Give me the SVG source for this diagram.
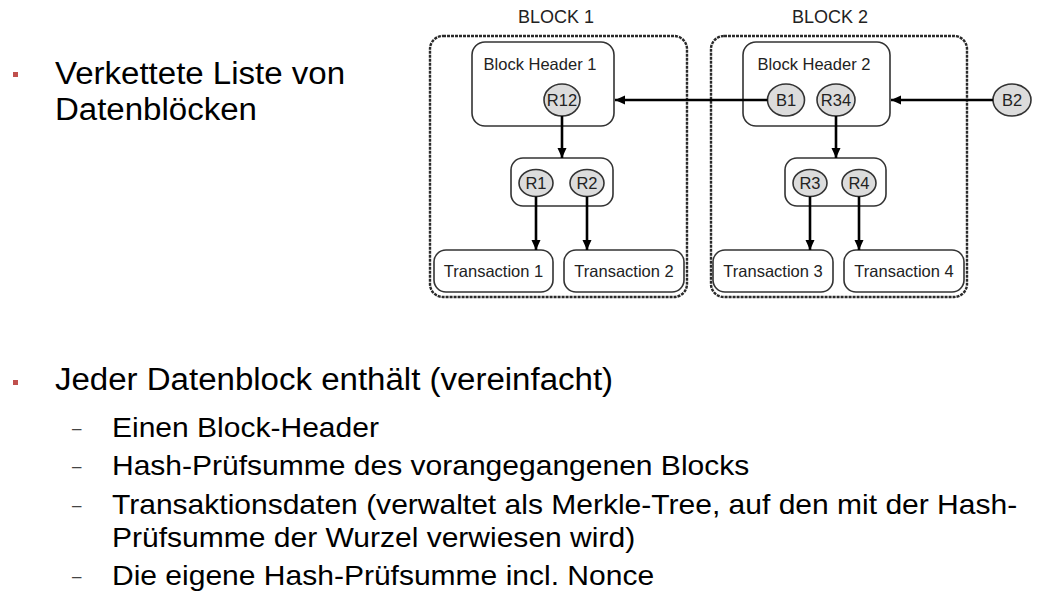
<svg xmlns="http://www.w3.org/2000/svg" width="1039" height="608" viewBox="0 0 1039 608">
  <style>
    .slide { font-family: "Liberation Sans", Arial, sans-serif; fill: #000; }
    .h1 { font-size: 30.6px; }
    .sub { font-size: 27.8px; }
    .dash { font-family: "Liberation Sans", Arial, sans-serif; font-size: 17px; fill: #444; }
    .bullet { fill: #c0504d; }
    .lbl { font-family: "Liberation Sans", Arial, sans-serif; font-size: 16.5px; fill: #222; }
    .title { font-family: "Liberation Sans", Arial, sans-serif; font-size: 18px; fill: #222; }
    .blk { fill: none; stroke: #2a2a2a; stroke-width: 2.4; stroke-dasharray: 3 1; }
    .box { fill: #fff; stroke: #333; stroke-width: 1.6; }
    .hash { fill: #dcdcdc; stroke: #333; stroke-width: 1.6; }
    .link { fill: none; stroke: #000; stroke-width: 2.6; }
  </style>
  <defs>
    <marker id="arrow" viewBox="0 0 10 10" refX="10" refY="5" markerWidth="10" markerHeight="10" markerUnits="userSpaceOnUse" orient="auto">
      <path d="M0,0.5 L10,5 L0,9.5 Z" fill="#000"/>
    </marker>
  </defs>

  <rect width="1039" height="608" fill="#fff"/>

  <!-- slide bullets -->
  <rect class="bullet" x="13" y="72" width="5" height="5"/>
  <rect class="bullet" x="13" y="380" width="5" height="5"/>
  <text class="dash" x="72" y="433.5">–</text>
  <text class="dash" x="72" y="471.5">–</text>
  <text class="dash" x="72" y="510.5">–</text>
  <text class="dash" x="72" y="581.5">–</text>

  <!-- slide text, set slightly wide -->
  <g id="text-top" class="slide" transform="scale(1.08 1)">
    <text class="h1" x="50.9" y="84">Verkettete Liste von</text>
    <text class="h1" x="50.9" y="120">Datenblöcken</text>
  </g>
  <g id="text-bottom" class="slide" transform="scale(1.08 1)">
    <text class="h1" x="50.9" y="390">Jeder Datenblock enthält (vereinfacht)</text>
    <text class="sub" x="103.7" y="437">Einen Block-Header</text>
    <text class="sub" x="103.7" y="475">Hash-Prüfsumme des vorangegangenen Blocks</text>
    <text class="sub" x="103.7" y="514">Transaktionsdaten (verwaltet als Merkle-Tree, auf den mit der Hash-</text>
    <text class="sub" x="103.7" y="547">Prüfsumme der Wurzel verwiesen wird)</text>
    <text class="sub" x="103.7" y="585">Die eigene Hash-Prüfsumme incl. Nonce</text>
  </g>

  <!-- block 1 -->
  <g id="block1">
    <text class="title" x="556" y="23" text-anchor="middle">BLOCK 1</text>
    <rect class="blk" x="430" y="36" width="257" height="261" rx="13"/>
  </g>
  <g id="header1">
    <rect class="box" x="472" y="42" width="142" height="84" rx="13"/>
    <text class="lbl" x="540" y="70" text-anchor="middle">Block Header 1</text>
  </g>
  <g id="r12">
    <ellipse class="hash" cx="562" cy="100" rx="18" ry="16"/>
    <text class="lbl" x="562" y="106" text-anchor="middle">R12</text>
  </g>
  <g id="merkle1">
    <rect class="box" x="511" y="158" width="102" height="48" rx="12"/>
  </g>
  <g id="r1">
    <ellipse class="hash" cx="536" cy="183" rx="17" ry="13.5"/>
    <text class="lbl" x="536" y="189" text-anchor="middle">R1</text>
  </g>
  <g id="r2">
    <ellipse class="hash" cx="587" cy="183" rx="17" ry="13.5"/>
    <text class="lbl" x="587" y="189" text-anchor="middle">R2</text>
  </g>
  <g id="tx1">
    <rect class="box" x="434" y="250" width="119" height="42" rx="12"/>
    <text class="lbl" x="493.5" y="277" text-anchor="middle">Transaction 1</text>
  </g>
  <g id="tx2">
    <rect class="box" x="564" y="250" width="120" height="42" rx="12"/>
    <text class="lbl" x="624" y="277" text-anchor="middle">Transaction 2</text>
  </g>

  <!-- block 2 -->
  <g id="block2">
    <text class="title" x="830" y="23" text-anchor="middle">BLOCK 2</text>
    <rect class="blk" x="711" y="36" width="256" height="261" rx="13"/>
  </g>
  <g id="header2">
    <rect class="box" x="743" y="42" width="147" height="84" rx="13"/>
    <text class="lbl" x="814" y="70" text-anchor="middle">Block Header 2</text>
  </g>
  <g id="b1">
    <ellipse class="hash" cx="786" cy="100" rx="18.5" ry="16"/>
    <text class="lbl" x="786" y="106" text-anchor="middle">B1</text>
  </g>
  <g id="r34">
    <ellipse class="hash" cx="836" cy="100" rx="19" ry="16"/>
    <text class="lbl" x="836" y="106" text-anchor="middle">R34</text>
  </g>
  <g id="merkle2">
    <rect class="box" x="785" y="158" width="101" height="48" rx="12"/>
  </g>
  <g id="r3">
    <ellipse class="hash" cx="810" cy="183" rx="17" ry="13.5"/>
    <text class="lbl" x="810" y="189" text-anchor="middle">R3</text>
  </g>
  <g id="r4">
    <ellipse class="hash" cx="859" cy="183" rx="17" ry="13.5"/>
    <text class="lbl" x="859" y="189" text-anchor="middle">R4</text>
  </g>
  <g id="tx3">
    <rect class="box" x="713" y="250" width="120" height="42" rx="12"/>
    <text class="lbl" x="773" y="277" text-anchor="middle">Transaction 3</text>
  </g>
  <g id="tx4">
    <rect class="box" x="844" y="250" width="120" height="42" rx="12"/>
    <text class="lbl" x="904" y="277" text-anchor="middle">Transaction 4</text>
  </g>

  <!-- next block pointer -->
  <g id="b2">
    <ellipse class="hash" cx="1012" cy="100" rx="19" ry="16"/>
    <text class="lbl" x="1012" y="106" text-anchor="middle">B2</text>
  </g>

  <!-- connectors -->
  <g id="connectors">
    <line class="link" x1="767.5" y1="100" x2="615" y2="100" marker-end="url(#arrow)"/>
    <line class="link" x1="993" y1="100" x2="891" y2="100" marker-end="url(#arrow)"/>
    <line class="link" x1="562" y1="116" x2="562" y2="158" marker-end="url(#arrow)"/>
    <line class="link" x1="836" y1="116" x2="836" y2="158" marker-end="url(#arrow)"/>
    <line class="link" x1="536" y1="196.5" x2="536" y2="250" marker-end="url(#arrow)"/>
    <line class="link" x1="587" y1="196.5" x2="587" y2="250" marker-end="url(#arrow)"/>
    <line class="link" x1="810" y1="196.5" x2="810" y2="250" marker-end="url(#arrow)"/>
    <line class="link" x1="859" y1="196.5" x2="859" y2="250" marker-end="url(#arrow)"/>
  </g>
</svg>
